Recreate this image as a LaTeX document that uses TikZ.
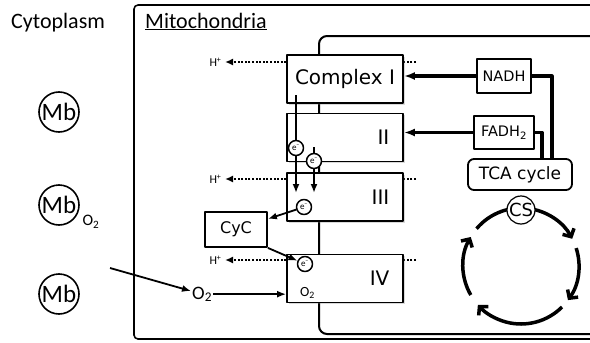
\documentclass[tikz,border=0pt]{standalone}
\usepackage{fontspec}
\setmainfont{Carlito}
\newfontfamily\boardfont{DejaVu Sans}
\usetikzlibrary{arrows.meta,calc,positioning,shadows}

\begin{document}
\begin{tikzpicture}[x=1pt, y=-1pt, line join=round,
  complex/.style={draw, fill=white, line width=1.8pt, minimum width=116pt, minimum height=48pt, inner sep=0pt,
    drop shadow={opacity=0.3, shadow xshift=1.5pt, shadow yshift=-1.5pt}},
  roman/.style={font=\boardfont\fontsize{20}{22}\selectfont},
  carrier/.style={draw, fill=white, line width=1.8pt, inner sep=0pt, font=\boardfont\fontsize{14.5}{16}\selectfont},
  elec/.style={draw, circle, fill=white, line width=1.5pt, minimum size=15pt, inner sep=0pt, font=\fontsize{9}{10}\selectfont},
  mb/.style={draw, circle, line width=1.6pt, minimum size=40pt, inner sep=0pt, font=\fontsize{25}{27}\selectfont},
  hion/.style={font=\fontsize{12}{13}\selectfont},
  pump/.style={-{Latex[length=8pt,width=7pt]}, line width=2pt, dash pattern=on 2pt off 1.6pt},
  flow/.style={-{Latex[length=9pt,width=7pt]}, line width=1.8pt},
  feed/.style={-{Latex[length=11pt,width=8pt]}, line width=3.2pt},
  link/.style={line width=3.2pt},
  turn/.style={-{Straight Barb[length=6pt,width=13pt,line width=3.5pt]}, line width=3.5pt}]
\useasboundingbox (0,0) rectangle (590,343);

% cytoplasm
\node[anchor=base, font=\fontsize{22}{24}\selectfont] (cyto) at (58,28) {Cytoplasm};
\node[mb] (mb1) at (59,112) {Mb};
\node[mb] (mb2) at (59,205) {Mb};
\node[font=\fontsize{16}{17}\selectfont] (mb2o) at (91,222) {O\textsubscript{2}};
\node[mb] (mb3) at (59,294) {Mb};

% membranes
\draw[line width=1.6pt, rounded corners=4pt] (134,5) rectangle (610,339);
\node[anchor=base west, inner sep=0pt, font=\fontsize{22}{24}\selectfont] (mito) at (145,28) {\underline{Mitochondria}};
\draw[line width=2pt, rounded corners=8pt] (610,36) -| (319,334) -- (610,334);

% H+ pumping, behind the complexes
\node[hion, anchor=east] (h1) at (225,62) {H\textsuperscript{+}};
\node[hion, anchor=east] (h3) at (225,179) {H\textsuperscript{+}};
\node[hion, anchor=east] (h4) at (225,260) {H\textsuperscript{+}};
\coordinate (p1) at (416,62);
\coordinate (p3) at (416,179);
\coordinate (p4) at (416,260);
\draw[pump] (p1) -- (h1);
\draw[pump] (p3) -- (h3);
\draw[pump] (p4) -- (h4);

% complexes
\node[complex, font=\boardfont\fontsize{20}{22}\selectfont] (c1) at (345,79) {Complex I};
\node[complex] (c2) at (345,137.5) {};
\node[complex] (c3) at (345,197) {};
\node[complex] (c4) at (345,278.5) {};
\node[roman, anchor=east, left=11pt of c2.east] (n2) {II};
\node[roman, anchor=east, left=11pt of c3.east] (n3) {III};
\node[roman, anchor=east, left=11pt of c4.east] (n4) {IV};

% electrons
\coordinate (eIa) at (296,95);
\coordinate (eIb) at (296,193);
\coordinate (eIIa) at (314,147);
\coordinate (eIIb) at (314,193);
\draw[flow] (eIa) -- (eIb);
\draw[flow] (eIIa) -- (eIIb);
\node[elec] (e1) at (296,148) {e\textsuperscript{--}};
\node[elec] (e2) at (314,161) {e\textsuperscript{--}};
\node[elec] (e3) at (304,207) {e\textsuperscript{--}};
\node[elec] (e4) at (305,264) {e\textsuperscript{--}};

% cytochrome c
\node[carrier, minimum width=62pt, minimum height=35pt, font=\boardfont\fontsize{16}{17}\selectfont] (cyc) at (236,229.5) {CyC};
\draw[flow] (e3) -- (cyc);
\draw[flow] (cyc.south east) -- (e4);

% oxygen
\node[anchor=base west, inner sep=1pt, font=\fontsize{19}{20}\selectfont] (o2) at (191,299) {O\textsubscript{2}};
\coordinate (mbin) at (110,268);
\draw[flow] (mbin) -- (o2);
\draw[flow] (o2) -- (o2 -| c4.west);
\node[anchor=base west, inner sep=0pt, font=\fontsize{14}{15}\selectfont] (o2in) at (300,296) {O\textsubscript{2}};

% TCA feed
\node[carrier, minimum width=54pt, minimum height=34pt] (nadh) at (504,76) {NADH};
\node[carrier, minimum width=60pt, minimum height=33pt] (fadh) at (504,132.5) {FADH\textsubscript{2}};
\node[carrier, rounded corners=6pt, minimum width=104pt, minimum height=31pt, font=\boardfont\fontsize{17}{18}\selectfont] (tca) at (520,174.5) {TCA cycle};
\draw[feed] (nadh) -- (nadh -| c1.east);
\draw[feed] (fadh) -- (fadh -| c2.east);
\draw[link] (nadh.east) -| ($(tca.north)+(32,0)$);
\draw[link] (fadh.east) -| ($(tca.north)+(22,0)$);

% cycle
\coordinate (kc) at (521,266);
\draw[turn] ($(kc)+(-140:58)$) arc[start angle=-140, end angle=-28, radius=58];
\draw[turn] ($(kc)+(-18:58)$) arc[start angle=-18, end angle=36, radius=58];
\draw[turn] ($(kc)+(45:58)$) arc[start angle=45, end angle=138, radius=58];
\draw[turn] ($(kc)+(150:58)$) arc[start angle=150, end angle=210, radius=58];
\node[draw, circle, fill=white, line width=1.2pt, minimum size=28pt, inner sep=0pt, font=\boardfont\fontsize{18}{19}\selectfont] (cs) at (521,210) {CS};

\end{tikzpicture}
\end{document}
